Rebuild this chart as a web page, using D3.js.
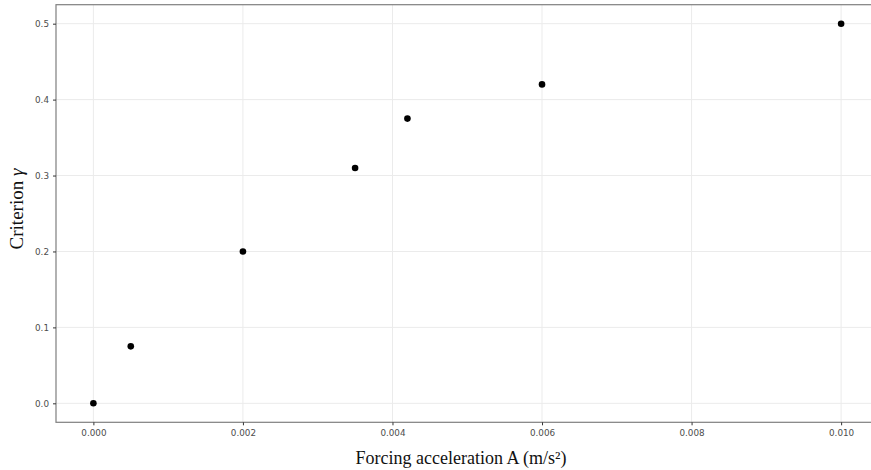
<!DOCTYPE html>
<html>
<head>
<meta charset="utf-8">
<script src="https://cdn.jsdelivr.net/npm/d3@7"></script>
<style>
  body { margin: 0; background: #fff; }
  svg { display: block; }
</style>
</head>
<body>
<div id="chart"></div>
<script>
var accel = [0, 0.0005, 0.002, 0.0035, 0.0042, 0.006, 0.010];
var gamma = [0, 0.075, 0.2, 0.31, 0.375, 0.42, 0.5];
var xTicks = [0, 0.002, 0.004, 0.006, 0.008, 0.010];
var yTicks = [0, 0.1, 0.2, 0.3, 0.4, 0.5];

var width = 871, height = 470;
// panel runs past the right edge of the picture (cropped)
var panelLeft = 56, panelRight = 878.5, panelTop = 4.7, panelBottom = 422.3;

var x = d3.scaleLinear().domain([-0.0005, 0.0105]).range([panelLeft, panelRight]);
var y = d3.scaleLinear().domain([-0.025, 0.525]).range([panelBottom, panelTop]);

var svg = d3.select("#chart").append("svg")
    .attr("width", width)
    .attr("height", height);

// grid
svg.append("g").selectAll("line")
    .data(xTicks).enter().append("line")
    .attr("x1", function(d) { return x(d); })
    .attr("x2", function(d) { return x(d); })
    .attr("y1", panelTop).attr("y2", panelBottom)
    .attr("stroke", "#ebebeb").attr("stroke-width", 1);

svg.append("g").selectAll("line")
    .data(yTicks).enter().append("line")
    .attr("x1", panelLeft).attr("x2", panelRight)
    .attr("y1", function(d) { return y(d); })
    .attr("y2", function(d) { return y(d); })
    .attr("stroke", "#ebebeb").attr("stroke-width", 1);

// panel border
svg.append("rect")
    .attr("x", panelLeft).attr("y", panelTop)
    .attr("width", panelRight - panelLeft).attr("height", panelBottom - panelTop)
    .attr("fill", "none")
    .attr("stroke", "#7f7f7f")
    .attr("stroke-width", 1.2);

var xAxis = svg.append("g")
    .attr("transform", "translate(0," + panelBottom + ")")
    .call(d3.axisBottom(x).tickValues(xTicks).tickFormat(d3.format(".3f")).tickSize(3).tickPadding(4));
var yAxis = svg.append("g")
    .attr("transform", "translate(" + panelLeft + ",0)")
    .call(d3.axisLeft(y).tickValues(yTicks).tickFormat(d3.format(".1f")).tickSize(3).tickPadding(4));

[xAxis, yAxis].forEach(function(a) {
    a.select(".domain").remove();
    a.selectAll(".tick line").attr("stroke", "#333");
    a.selectAll(".tick text")
        .attr("fill", "#4d4d4d")
        .style("font-family", "DejaVu Sans, sans-serif")
        .style("font-size", "8.8px");
});

// points
svg.append("g").selectAll("circle")
    .data(accel).enter().append("circle")
    .attr("cx", function(d) { return x(d); })
    .attr("cy", function(d, i) { return y(gamma[i]); })
    .attr("r", 3.3)
    .attr("fill", "#000");

// axis titles
svg.append("text")
    .attr("x", 461).attr("y", 464)
    .attr("text-anchor", "middle")
    .style("font-family", "Liberation Serif, serif")
    .style("font-size", "18px")
    .attr("fill", "#111")
    .text("Forcing acceleration A (m/s²)");

var yt = svg.append("text")
    .attr("transform", "translate(23,209) rotate(-90)")
    .attr("text-anchor", "middle")
    .style("font-family", "Liberation Serif, serif")
    .style("font-size", "19px")
    .attr("fill", "#111");
yt.append("tspan").text("Criterion ");
yt.append("tspan").style("font-style", "italic").text("γ");
</script>
</body>
</html>
